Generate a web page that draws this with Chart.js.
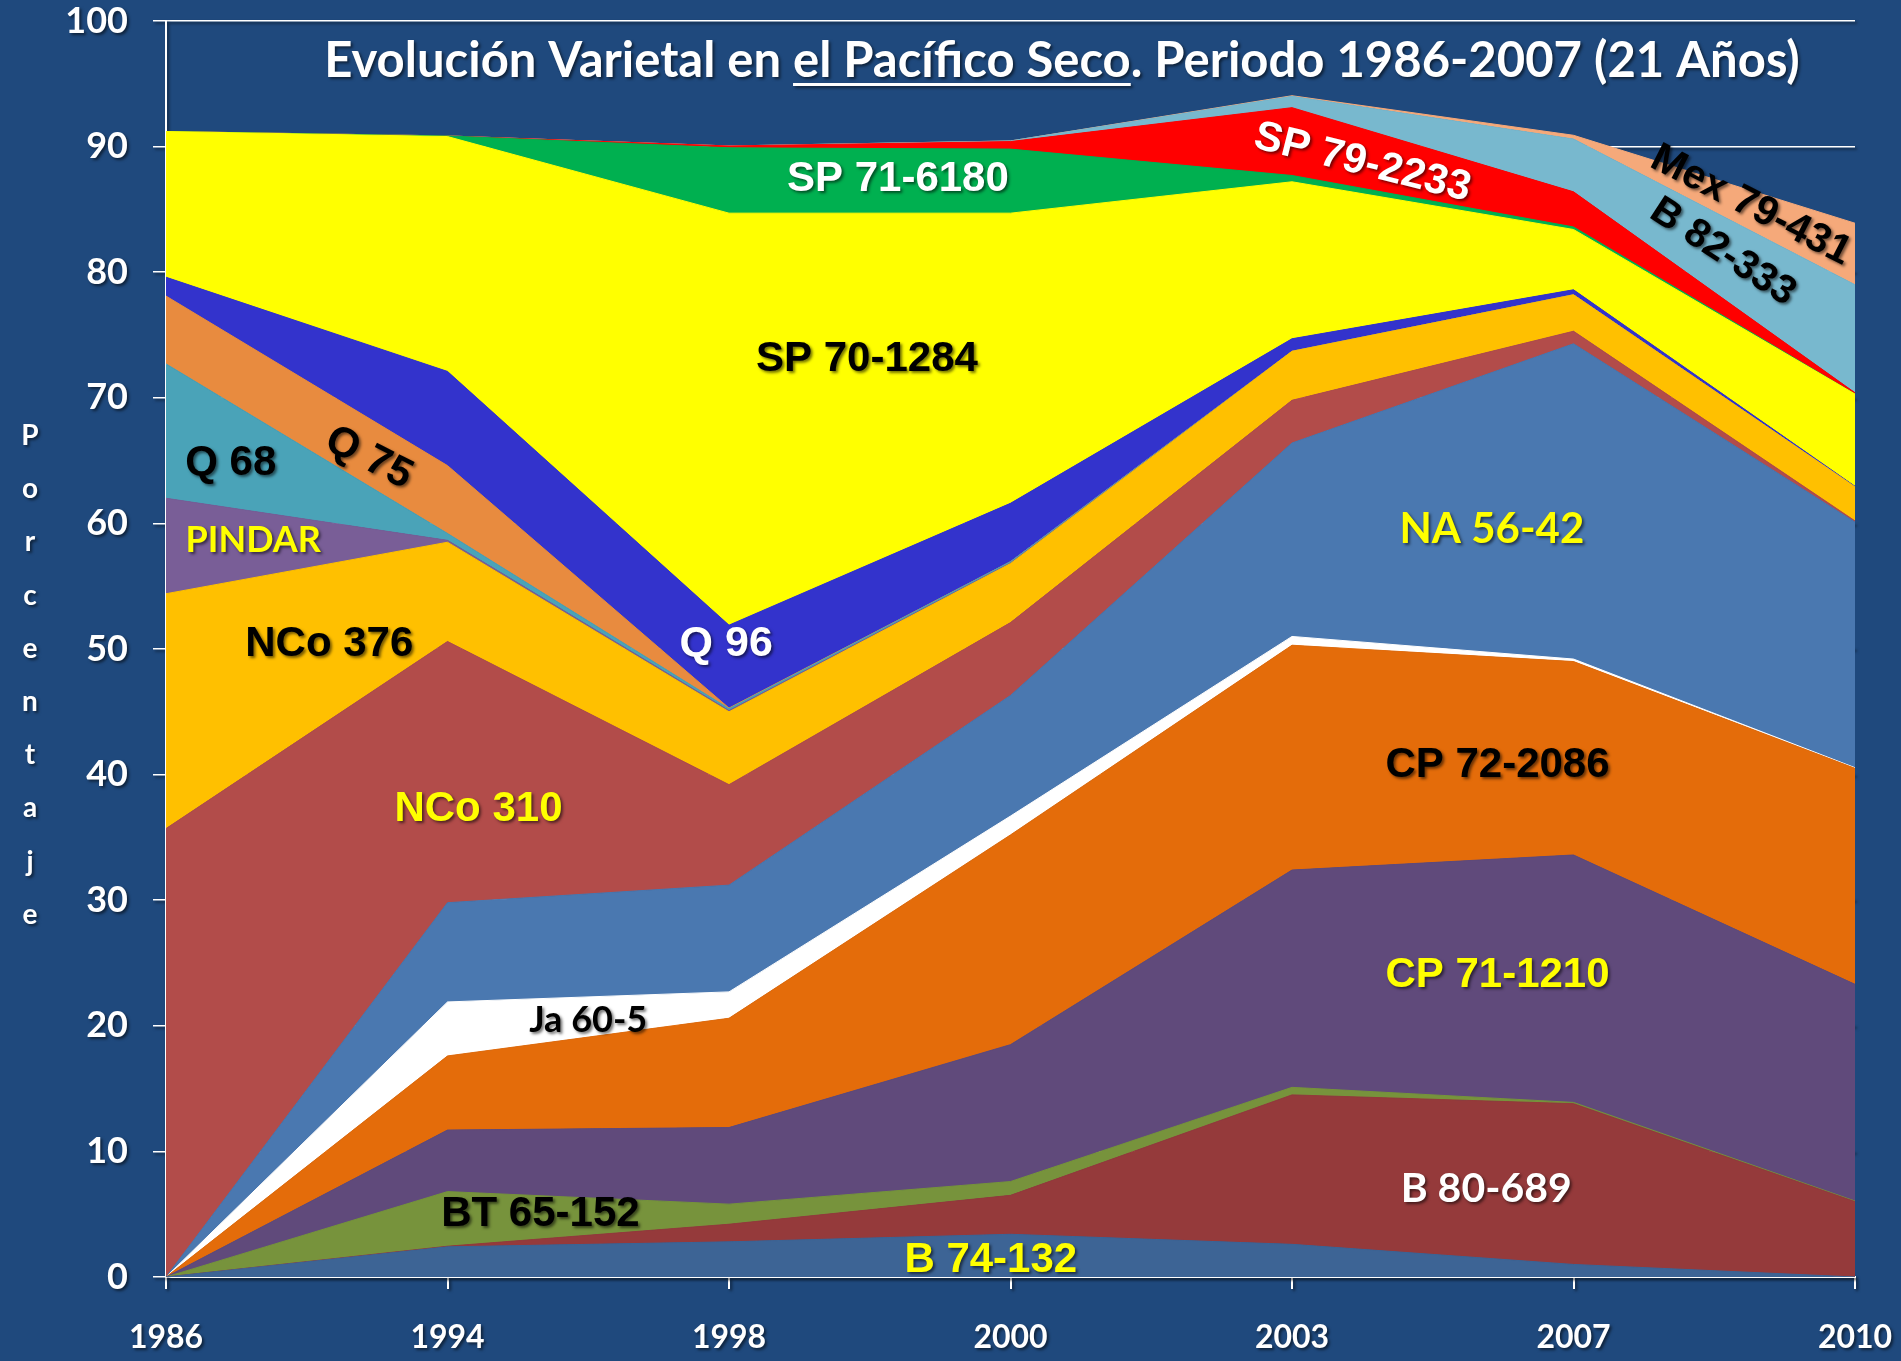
<!DOCTYPE html>
<html>
<head>
<meta charset="utf-8">
<script src="https://cdn.jsdelivr.net/npm/chart.js@4/dist/chart.umd.min.js"></script>
<style>
  html, body { margin: 0; padding: 0; background: #1F497D; }
  canvas { display: block; }
</style>
</head>
<body>
<canvas id="varietalChart" width="1901" height="1361"></canvas>
<script>
// Evolución varietal - Pacífico Seco (stacked area, % of area)
const years = ['1986', '1994', '1998', '2000', '2003', '2007', '2010'];

// one array per variety, bottom of the stack first
const b74_132   = [0,    2.4,  2.8,  3.4,  2.6,  1.0,  0];
const b80_689   = [0,    0.05, 1.4,  3.1,  11.9, 12.8, 6.0];
const bt65_152  = [0,    4.35, 1.6,  1.1,  0.6,  0.1,  0.05];
const cp71_1210 = [0,    4.9,  6.1,  10.9, 17.3, 19.7, 17.25];
const cp72_2086 = [0,    5.9,  8.7,  16.7, 17.9, 15.4, 17.2];
const ja60_5    = [0,    4.3,  2.1,  1.5,  0.7,  0.2,  0.05];
const na56_42   = [0,    7.9,  8.5,  9.6,  15.4, 25.1, 19.55];
const nco310    = [35.7, 20.8, 8.0,  5.8,  3.4,  1.0,  0.1];
const nco376    = [18.7, 7.9,  5.8,  4.7,  3.9,  2.9,  2.7];
const pindar    = [7.6,  0.15, 0.1,  0.05, 0,    0,    0];
const q68       = [10.7, 0.55, 0.15, 0.1,  0,    0,    0];
const q75       = [5.4,  5.4,  0.05, 0,    0,    0,    0];
const q96       = [1.5,  7.5,  6.6,  4.65, 1.0,  0.4,  0.05];
const sp70_1284 = [11.6, 18.7, 32.8, 23.1, 12.5, 4.8,  7.35];
const sp71_6180 = [0,    0.05, 5.2,  5.1,  0.5,  0.2,  0];
const sp79_2233 = [0,    0,    0.15, 0.6,  5.4,  2.8,  0.1];
const b82_333   = [0,    0,    0,    0.05, 0.9,  4.2,  8.6];
const mex79_431 = [0,    0,    0,    0,    0.05, 0.3,  4.9];

const yTicks = [0, 10, 20, 30, 40, 50, 60, 70, 80, 90, 100];

const series = [
    ['B 74-132',   b74_132,   '#3D6495'],
    ['B 80-689',   b80_689,   '#953A3B'],
    ['BT 65-152',  bt65_152,  '#77933C'],
    ['CP 71-1210', cp71_1210, '#604A7B'],
    ['CP 72-2086', cp72_2086, '#E46C0A'],
    ['Ja 60-5',    ja60_5,    '#FFFFFF'],
    ['NA 56-42',   na56_42,   '#4A78B0'],
    ['NCo 310',    nco310,    '#B24C4A'],
    ['NCo 376',    nco376,    '#FFC000'],
    ['PINDAR',     pindar,    '#795E97'],
    ['Q 68',       q68,       '#4AA3B8'],
    ['Q 75',       q75,       '#E88B3F'],
    ['Q 96',       q96,       '#3333CC'],
    ['SP 70-1284', sp70_1284, '#FFFF00'],
    ['SP 71-6180', sp71_6180, '#00B050'],
    ['SP 79-2233', sp79_2233, '#FF0000'],
    ['B 82-333',   b82_333,   '#78B8CE'],
    ['Mex 79-431', mex79_431, '#F5A97A']
];

const ARIAL = '"Liberation Sans", Arial, sans-serif';
const CALIBRI = 'Lato, "Open Sans", sans-serif';

// labels placed in data units (x = category index, y = percent)
const areaLabels = [
    { text: 'SP 71-6180', x: 2.60, y: 87.4, color: '#FFFFFF', family: ARIAL, size: 42, rot: 0 },
    { text: 'SP 79-2233', x: 4.25, y: 88.7, color: '#FFFFFF', family: ARIAL, size: 42, rot: 14 },
    { text: 'Mex 79-431', x: 5.63, y: 85.3, color: '#000000', family: ARIAL, size: 41, rot: 27 },
    { text: 'B 82-333',   x: 5.53, y: 81.6, color: '#000000', family: ARIAL, size: 40, rot: 33 },
    { text: 'SP 70-1284', x: 2.49, y: 73.05, color: '#000000', family: ARIAL, size: 42, rot: 0 },
    { text: 'Q 68',       x: 0.23, y: 64.75, color: '#000000', family: ARIAL, size: 42, rot: 0 },
    { text: 'Q 75',       x: 0.72, y: 65.2, color: '#000000', family: ARIAL, size: 42, rot: 27 },
    { text: 'PINDAR',     x: 0.31, y: 58.66, color: '#FFFF00', family: CALIBRI, size: 36, rot: 0 },
    { text: 'NCo 376',    x: 0.58, y: 50.36, color: '#000000', family: ARIAL, size: 42, rot: 0 },
    { text: 'Q 96',       x: 1.99, y: 50.36, color: '#FFFFFF', family: ARIAL, size: 43, rot: 0 },
    { text: 'NA 56-42',   x: 4.71, y: 59.53, color: '#FFFF00', family: CALIBRI, size: 42, rot: 0 },
    { text: 'NCo 310',    x: 1.11, y: 37.22, color: '#FFFF00', family: ARIAL, size: 42, rot: 0 },
    { text: 'CP 72-2086', x: 4.73, y: 40.7, color: '#000000', family: ARIAL, size: 42, rot: 0 },
    { text: 'Ja 60-5',    x: 1.50, y: 20.43, color: '#000000', family: CALIBRI, size: 36, rot: 0 },
    { text: 'CP 71-1210', x: 4.73, y: 24.0, color: '#FFFF00', family: ARIAL, size: 42, rot: 0 },
    { text: 'BT 65-152',  x: 1.33, y: 4.98, color: '#000000', family: ARIAL, size: 42, rot: 0 },
    { text: 'B 80-689',   x: 4.69, y: 7.0, color: '#FFFFFF', family: CALIBRI, size: 41, rot: 0 },
    { text: 'B 74-132',   x: 2.93, y: 1.31, color: '#FFFF00', family: ARIAL, size: 42, rot: 0 }
];

function setShadow(c, on) {
    c.shadowColor = on ? 'rgba(0, 0, 0, 0.55)' : 'rgba(0,0,0,0)';
    c.shadowOffsetX = on ? 2 : 0;
    c.shadowOffsetY = on ? 2 : 0;
    c.shadowBlur = on ? 3 : 0;
}

// tick labels get the same drop shadow as the rest of the slide text
const shadowPlugin = {
    id: 'shadowPlugin',
    beforeDraw(chart) { setShadow(chart.ctx, true); },
    beforeDatasetsDraw(chart) { setShadow(chart.ctx, false); }
};

const labelPlugin = {
    id: 'labelPlugin',
    afterDatasetsDraw(chart) {
        const c = chart.ctx;
        const xs = chart.scales.x, ys = chart.scales.y;
        c.save();
        setShadow(c, true);
        c.textAlign = 'center';
        c.textBaseline = 'middle';
        areaLabels.forEach(l => {
            c.save();
            c.translate(xs.getPixelForValue(l.x), ys.getPixelForValue(l.y));
            c.rotate(l.rot * Math.PI / 180);
            c.font = `bold ${l.size}px ${l.family}`;
            c.fillStyle = l.color;
            c.fillText(l.text, 0, 0);
            c.restore();
        });
        c.restore();
    },
    afterDraw(chart) {
        const c = chart.ctx;
        c.save();
        setShadow(c, true);
        c.fillStyle = '#FFFFFF';
        c.textBaseline = 'alphabetic';
        c.textAlign = 'left';

        // title, with the underlined part
        c.font = `bold 49px ${CALIBRI}`;
        const parts = ['Evolución Varietal en ', 'el Pacífico Seco', '. Periodo 1986-2007 (21 Años)'];
        const widths = parts.map(p => c.measureText(p).width);
        const total = widths.reduce((a, b) => a + b, 0);
        let x = 1062 - total / 2;
        const base = 77;
        parts.forEach((p, i) => {
            c.fillText(p, x, base);
            if (i === 1) c.fillRect(x, base + 6, widths[i], 3);
            x += widths[i];
        });

        // vertical "Porcentaje"
        c.textAlign = 'center';
        c.textBaseline = 'middle';
        c.font = `bold 28px ${CALIBRI}`;
        'Porcentaje'.split('').forEach((ch, i) => {
            c.fillText(ch, 30, 436 + i * 53.2);
        });
        c.restore();
    }
};

function noScalePadding(scale) {
    scale.paddingTop = 0;
    scale.paddingBottom = 0;
    scale.paddingLeft = 0;
    scale.paddingRight = 0;
}

const chart = new Chart(document.getElementById('varietalChart'), {
    type: 'line',
    data: {
        labels: years,
        datasets: series.map(([name, values, color], i) => ({
            label: name,
            data: values,
            backgroundColor: color,
            borderColor: color,
            borderWidth: 1,
            pointRadius: 0,
            tension: 0,
            fill: i === 0 ? 'origin' : '-1'
        }))
    },
    options: {
        responsive: false,
        animation: false,
        events: [],
        layout: { padding: { top: 21, right: 46, bottom: 0, left: 0 } },
        plugins: {
            legend: { display: false },
            tooltip: { enabled: false },
            title: { display: false }
        },
        scales: {
            x: {
                ticks: {
                    color: '#FFFFFF',
                    font: { family: CALIBRI, weight: 'bold', size: 32 },
                    padding: 29,
                    maxRotation: 0
                },
                grid: {
                    drawOnChartArea: false,
                    drawTicks: true,
                    tickLength: 12,
                    tickColor: '#FFFFFF',
                    lineWidth: 2
                },
                border: { color: '#FFFFFF', width: 2 },
                afterFit(scale) { scale.height = 84; noScalePadding(scale); }
            },
            y: {
                stacked: true,
                min: 0,
                max: 100,
                afterBuildTicks(scale) { scale.ticks = yTicks.map(v => ({ value: v })); },
                ticks: {
                    color: '#FFFFFF',
                    font: { family: CALIBRI, weight: 'bold', size: 36 },
                    padding: 25
                },
                grid: {
                    color: '#FFFFFF',
                    lineWidth: 1.5,
                    drawTicks: true,
                    tickLength: 13,
                    tickColor: '#FFFFFF'
                },
                border: { color: '#FFFFFF', width: 2 },
                afterFit(scale) { scale.width = 166; noScalePadding(scale); }
            }
        }
    },
    plugins: [shadowPlugin, labelPlugin]
});

// nudge the layout padding so the plot area sits where the slide has it
const target = { left: 166, top: 21, right: 1855, bottom: 1277 };
for (let k = 0; k < 3; k++) {
    const ca = chart.chartArea;
    const p = chart.options.layout.padding;
    p.top = Math.max(0, p.top + target.top - ca.top);
    p.right = Math.max(0, p.right + ca.right - target.right);
    p.left = Math.max(0, p.left + target.left - ca.left);
    p.bottom = Math.max(0, p.bottom + ca.bottom - target.bottom);
    chart.update();
}
</script>
</body>
</html>
